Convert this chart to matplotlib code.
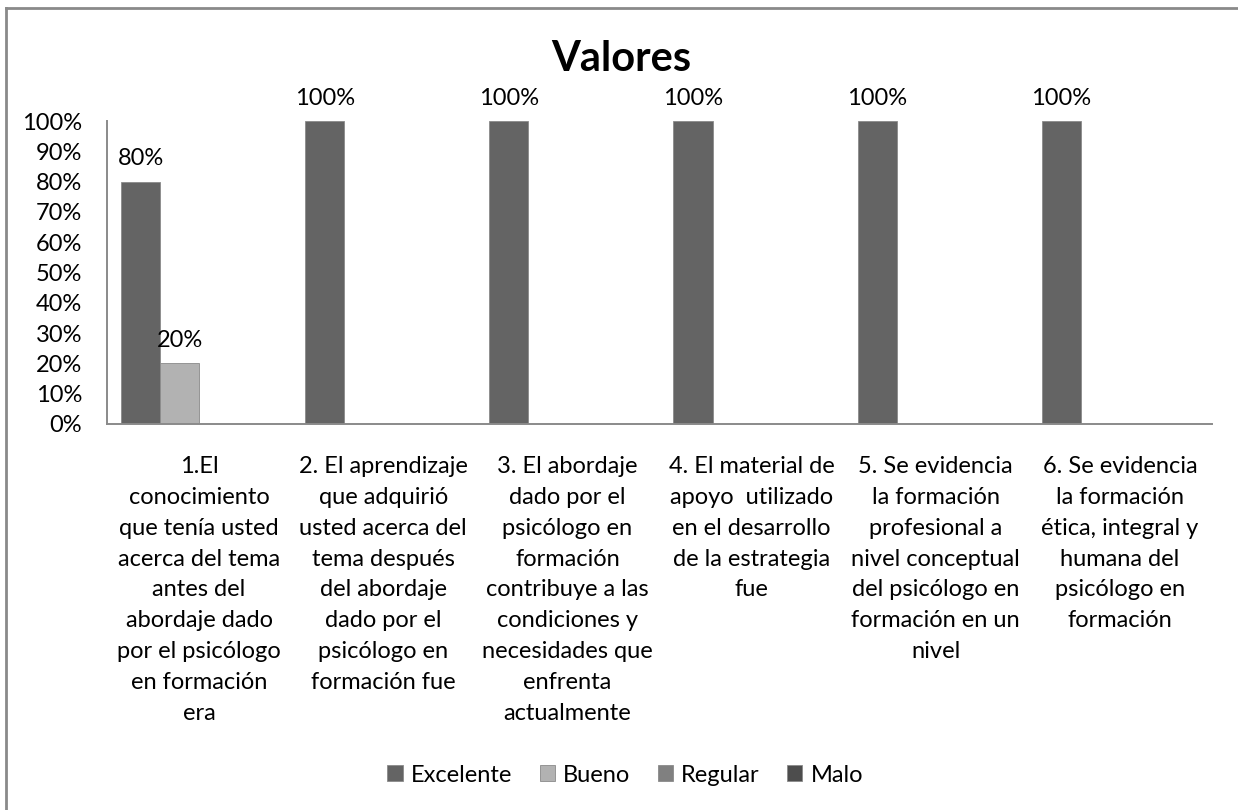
import matplotlib
matplotlib.use("Agg")
import matplotlib.pyplot as plt
import numpy as np
from matplotlib.lines import Line2D

plt.rcParams['font.family'] = ['Lato', 'DejaVu Sans']

categories = [
    "1.El\nconocimiento\nque tenía usted\nacerca del tema\nantes del\nabordaje dado\npor el psicólogo\nen formación\nera",
    "2. El aprendizaje\nque adquirió\nusted acerca del\ntema después\ndel abordaje\ndado por el\npsicólogo en\nformación fue",
    "3. El abordaje\ndado por el\npsicólogo en\nformación\ncontribuye a las\ncondiciones y\nnecesidades que\nenfrenta\nactualmente",
    "4. El material de\napoyo  utilizado\nen el desarrollo\nde la estrategia\nfue",
    "5. Se evidencia\nla formación\nprofesional a\nnivel conceptual\ndel psicólogo en\nformación en un\nnivel",
    "6. Se evidencia\nla formación\nética, integral y\nhumana del\npsicólogo en\nformación",
]
series_names = ["Excelente", "Bueno", "Regular", "Malo"]
excelente = [0.80, 1.00, 1.00, 1.00, 1.00, 1.00]
bueno = [0.20, 0.0, 0.0, 0.0, 0.0, 0.0]
regular = [0.0, 0.0, 0.0, 0.0, 0.0, 0.0]
malo = [0.0, 0.0, 0.0, 0.0, 0.0, 0.0]
yticks = [0.0, 0.1, 0.2, 0.3, 0.4, 0.5, 0.6, 0.7, 0.8, 0.9, 1.0]
ytick_labels = ["0%", "10%", "20%", "30%", "40%", "50%", "60%", "70%", "80%", "90%", "100%"]
title = "Valores"

colors = ["#646464", "#b2b2b2", "#808080", "#4d4d4d"]
series = [excelente, bueno, regular, malo]

FS = 17
W, H = 1238, 810
fig = plt.figure(figsize=(W / 100, H / 100), dpi=100)
ax = fig.add_axes([107 / W, 1 - 424 / H, (1212 - 107) / W, (424 - 121) / H])

x = np.arange(len(categories))
w = 0.212
for i, (vals, name, c) in enumerate(zip(series, series_names, colors)):
    bars = ax.bar(x + (i - 1.5) * w, vals, width=w, color=c, label=name,
                  edgecolor='#8a8a8a', linewidth=0.6)
    labels = [f"{v * 100:.0f}%" if v > 0 else "" for v in vals]
    ax.bar_label(bars, labels=labels, padding=9, fontsize=FS, color='black')

ax.set_xlim(-0.5, len(categories) - 0.5)
ax.set_ylim(0, 1.0)
ax.set_yticks(yticks)
ax.set_yticklabels(ytick_labels, fontsize=FS)
ax.set_xticks(x)
ax.set_xticklabels(categories, fontsize=FS)
for lab in ax.get_xticklabels():
    lab.set_linespacing(1.58)
    lab.set_multialignment('center')
ax.tick_params(axis='both', length=0)
ax.tick_params(axis='y', pad=18)
ax.tick_params(axis='x', pad=23)
for s in ['top', 'right']:
    ax.spines[s].set_visible(False)
for s in ['left', 'bottom']:
    ax.spines[s].set_color('#8a8a8a')
    ax.spines[s].set_linewidth(1.4)

fig.text(0.502, 1 - 59 / H, title, ha='center', va='center', fontsize=30, fontweight='bold')

leg = fig.legend(loc='center', bbox_to_anchor=(0.505, 1 - 775 / H), ncol=4, frameon=False,
                 fontsize=FS, handlelength=0.65, handleheight=0.65, handletextpad=0.35,
                 columnspacing=1.15)

fig.add_artist(Line2D([6 / W, 6 / W], [0, 1 - 8 / H], color='#8a8a8a', linewidth=2, transform=fig.transFigure))
fig.add_artist(Line2D([6 / W, 1], [1 - 8 / H, 1 - 8 / H], color='#8a8a8a', linewidth=2, transform=fig.transFigure))

fig.savefig("out.png", dpi=100, facecolor='white')
